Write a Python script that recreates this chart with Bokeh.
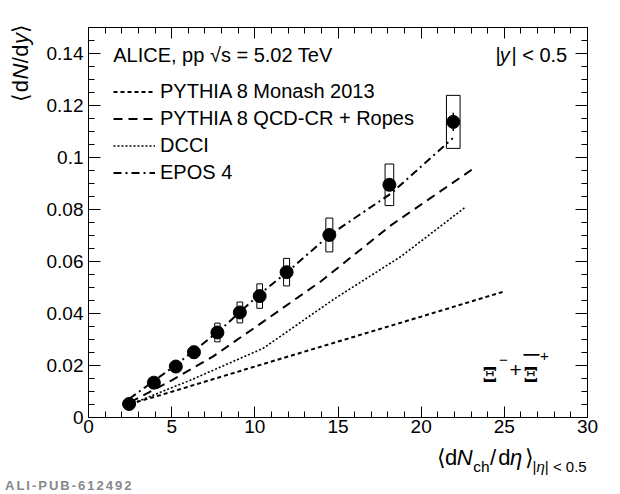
import numpy as np
from bokeh.plotting import figure
from bokeh.models import (Range1d, LinearAxis, Label, Legend, LegendItem, Div,
                          SingleIntervalTicker, CustomJSTickFormatter, BoxAnnotation)
from bokeh.layouts import column
from bokeh.embed import file_html
from bokeh.resources import INLINE

# ---------------- data ----------------
mult = [2.44, 3.93, 5.25, 6.34, 7.75, 9.10, 10.29, 11.91, 14.48, 18.09, 21.93]
dndy = [0.0052, 0.0134, 0.0196, 0.0251, 0.0327, 0.0404, 0.0467, 0.0559, 0.0702, 0.0895, 0.1137]
stat_err = [0.0003, 0.0004, 0.0005, 0.0006, 0.0008, 0.0009, 0.0010, 0.0012, 0.0015, 0.0020, 0.0035]
sys_err_y = [0.0008, 0.0013, 0.0018, 0.0023, 0.0036, 0.0040, 0.0047, 0.0053, 0.0065, 0.0080, 0.0102]
sys_err_x = [0.14, 0.15, 0.15, 0.16, 0.16, 0.17, 0.17, 0.18, 0.21, 0.26, 0.41]

monash_x = [2.5, 5.0, 10.0, 15.0, 20.0, 25.0]
monash_y = [0.0052, 0.0099, 0.0196, 0.0292, 0.0388, 0.0485]

ropes_x = [2.5, 5.0, 7.5, 10.0, 14.0, 18.2, 23.2]
ropes_y = [0.0058, 0.0143, 0.0235, 0.0346, 0.0525, 0.0740, 0.0960]

dcci_x = [2.5, 6.0, 10.5, 14.75, 18.8, 22.6]
dcci_y = [0.0050, 0.0140, 0.0266, 0.0455, 0.0620, 0.0806]

epos_x = [2.45, 5.0, 7.8, 10.3, 12.0, 14.5, 18.2, 21.9]
epos_y = [0.0072, 0.0190, 0.0330, 0.0475, 0.0562, 0.0702, 0.0862, 0.1074]

legend_labels = ["PYTHIA 8 Monash 2013", "PYTHIA 8 QCD-CR + Ropes", "DCCI", "EPOS 4"]

FONT = "Liberation Sans"
W, H = 620, 494

# ---------------- figure ----------------
p = figure(width=W, height=H, output_backend="svg", toolbar_location=None,
           x_range=Range1d(0, 30), y_range=Range1d(0, 0.15),
           min_border_left=88, min_border_right=33, min_border_top=27, min_border_bottom=77,
           x_axis_type=None, y_axis_type=None)
p.xgrid.visible = False
p.ygrid.visible = False
p.outline_line_color = "black"
p.outline_line_width = 1
p.background_fill_color = "white"
p.border_fill_color = "white"

yfmt = CustomJSTickFormatter(code="return String(parseFloat(tick.toFixed(3)));")
empty = CustomJSTickFormatter(code="return '';")


def make_axis(kind, show_labels):
    if kind == "x":
        ticker = SingleIntervalTicker(interval=5, num_minor_ticks=5)
        fmt = None if show_labels else empty
        maj, mnr = 11, 6
    else:
        ticker = SingleIntervalTicker(interval=0.02, num_minor_ticks=4)
        fmt = yfmt if show_labels else empty
        maj, mnr = 12, 6
    ax = LinearAxis(ticker=ticker)
    if fmt is not None:
        ax.formatter = fmt
    ax.axis_line_color = "black"
    ax.axis_line_width = 1
    ax.major_tick_in = maj
    ax.major_tick_out = 0
    ax.minor_tick_in = mnr
    ax.minor_tick_out = 0
    ax.major_tick_line_color = "black"
    ax.minor_tick_line_color = "black"
    ax.major_tick_line_width = 1
    ax.minor_tick_line_width = 1
    ax.major_label_text_font = FONT
    ax.major_label_text_font_size = "19px"
    ax.major_label_text_color = "black"
    return ax


xb = make_axis("x", True)
xb.major_label_standoff = 2
p.add_layout(xb, "below")
yl = make_axis("y", True)
yl.major_label_standoff = 5
p.add_layout(yl, "left")
p.add_layout(make_axis("x", False), "above")
p.add_layout(make_axis("y", False), "right")

# ---------------- data marks ----------------
dndy_a = np.array(dndy)
p.rect(x=mult, y=dndy, width=list(2 * np.array(sys_err_x)), height=list(2 * np.array(sys_err_y)),
       fill_alpha=0, line_color="black", line_width=1)

r_monash = p.line(monash_x, monash_y, line_color="black", line_width=2, line_dash="4 3")
r_ropes = p.line(ropes_x, ropes_y, line_color="black", line_width=2, line_dash="9 6")
r_dcci = p.line(dcci_x, dcci_y, line_color="black", line_width=1.6, line_dash="2 2")
r_epos = p.line(epos_x, epos_y, line_color="black", line_width=2, line_dash="8 4 2 4")

p.segment(x0=mult, y0=list(dndy_a - np.array(stat_err)), x1=mult, y1=list(dndy_a + np.array(stat_err)),
          line_color="black", line_width=1.5)
p.scatter(mult, dndy, size=13, color="black")

# ---------------- legend ----------------
legend = Legend(items=[LegendItem(label=l, renderers=[r]) for l, r in
                       zip(legend_labels, [r_monash, r_ropes, r_dcci, r_epos])],
                location=(25, 231), orientation="vertical",
                glyph_width=42, glyph_height=27, label_height=27, spacing=0,
                padding=0, margin=0, label_standoff=5,
                label_text_font=FONT, label_text_font_size="20px", label_text_color="black",
                border_line_alpha=0, background_fill_alpha=0)
p.add_layout(legend)


def lab(text, x, y, size="20px", style="normal", align="left", baseline="alphabetic",
        font=FONT):
    p.add_layout(Label(x=x, y=y, x_units="canvas", y_units="canvas", text=text,
                       text_font=font, text_font_size=size, text_font_style=style,
                       text_align=align, text_baseline=baseline, text_color="black"))


# header texts (inside the frame)
lab("ALICE, pp \u221As = 5.02 TeV", 112.7, 54.3)
lab("|", 495, 54.3)
lab("y", 499.3, 54.3, style="italic")
lab("| < 0.5", 566.7, 54.3, align="right")

# particle label
lab("\u039E", 482, 373.5, size="21px", style="bold", font="DejaVu Serif")
lab("\u2212", 498.5, 359, size="15px", baseline="middle")
lab("+", 509, 369.5, size="21px", baseline="middle")
lab("\u039E", 523, 373.5, size="21px", style="bold", font="DejaVu Serif")
p.add_layout(BoxAnnotation(left=523, right=539, top=353.5, bottom=355.3,
                           left_units="canvas", right_units="canvas",
                           top_units="canvas", bottom_units="canvas",
                           fill_color="black", fill_alpha=1, line_alpha=0))
lab("+", 539.5, 355.7, size="15px", baseline="middle")

# ---------------- axis titles & tag (outside the frame), as SVG text overlay ----------------
overlay = f'''<svg xmlns="http://www.w3.org/2000/svg" width="{W}" height="{H}" style="position:absolute;left:0;top:0">
<g font-family="Liberation Sans" fill="black">
<text y="465" font-size="22"><tspan x="436.7">&#10216;</tspan><tspan x="445">d</tspan><tspan x="456.7" font-style="italic">N</tspan><tspan x="490">/</tspan><tspan x="498.3">d</tspan><tspan x="510" font-style="italic">&#951;</tspan><tspan x="524.5">&#10217;</tspan></text>
<text y="471.7" font-size="15.5"><tspan x="473.3">ch</tspan></text>
<text x="586.7" y="471.7" font-size="15" text-anchor="end">|<tspan font-style="italic">&#951;</tspan>| &lt; 0.5</text>
<text x="0" y="0" font-size="22" transform="translate(28.3,101.7) rotate(-90)" textLength="78" lengthAdjust="spacing">&#10216;d<tspan font-style="italic">N</tspan>/d<tspan font-style="italic">y</tspan>&#10217;</text>
<text x="5" y="490" font-family="Liberation Mono" font-size="13" font-weight="bold" fill="#888888" letter-spacing="2">ALI-PUB-612492</text>
</g></svg>'''

div = Div(text=overlay, width=W, height=H, margin=(-H, 0, 0, 0),
          styles={"pointer-events": "none", "overflow": "visible"})

layout = column(p, div, spacing=0)
open("out.html", "w").write(file_html(layout, INLINE))
